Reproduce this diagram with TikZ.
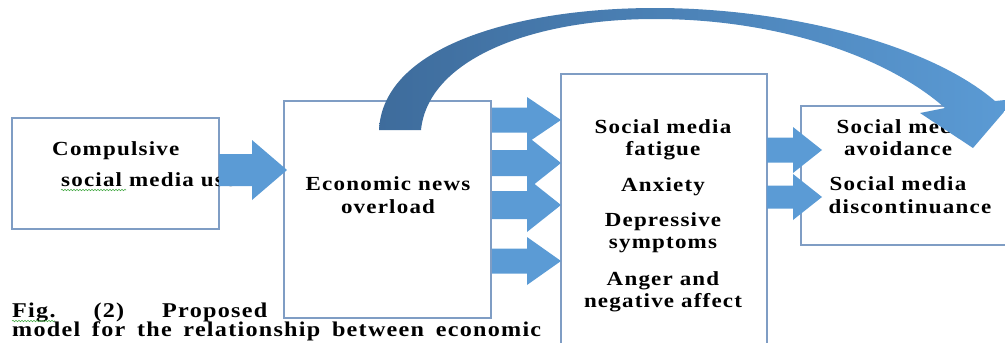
\documentclass[tikz,border=0pt]{standalone}
\usepackage{fontspec}
\setmainfont{Liberation Serif}[FakeStretch=1.15,LetterSpace=6]
\usetikzlibrary{decorations.pathmorphing}
\definecolor{boxline}{RGB}{127,157,196}
\definecolor{arrowblue}{RGB}{91,155,213}
\definecolor{arcdark}{RGB}{62,108,156}
\definecolor{spellgreen}{RGB}{70,170,70}
% block arrow: shaft start x, head base x, tip x, centre y, shaft half-height, head half-height
\newcommand\blockarr[6]{%
  \fill[arrowblue] (#1,#4-#5) -- (#2,#4-#5) -- (#2,#4-#6) -- (#3,#4)
    -- (#2,#4+#6) -- (#2,#4+#5) -- (#1,#4+#5) -- cycle;}
\begin{document}
\frenchspacing
\begin{tikzpicture}[x=1pt,y=-1pt,
  box/.style={draw=boxline,line width=1.2pt,fill=white,inner sep=0pt},
  lbl/.style={font=\bfseries\fontsize{20}{22}\selectfont,inner sep=0pt,anchor=base},
  captext/.style={font=\bfseries\fontsize{21}{20}\selectfont,inner sep=0pt,anchor=base west},
  spell/.style={spellgreen,line width=0.6pt,decorate,
    decoration={snake,amplitude=0.7pt,segment length=3pt}}]
\useasboundingbox (0,0) rectangle (1005,343);
\clip (0,0) rectangle (1005,343);

% boxes
\node[box,minimum width=207pt,minimum height=111pt] (cmp) at (115.5,173.5) {};
\node[box,minimum width=207pt,minimum height=217pt] (eno) at (387.5,209.5) {};
\node[box,minimum width=206pt,minimum height=286pt] (out) at (664,217) {};
\node[box,minimum width=219pt,minimum height=139pt] (beh) at (910.5,175.5) {};

% box texts
\node[lbl,anchor=base west] (t1a) at (52,155) {Compulsive};
\node[lbl,anchor=base west] (t1b) at (61,186) {social media use};
\draw[spell] (61,190) -- (126,190);

\node[lbl] (t2a) at (388,190) {Economic news};
\node[lbl] (t2b) at (388,213) {overload};

\node[lbl] (t3a) at (663,133) {Social media};
\node[lbl] (t3b) at (663,155) {fatigue};
\node[lbl] (t3c) at (663,191) {Anxiety};
\node[lbl] (t3d) at (663,226) {Depressive};
\node[lbl] (t3e) at (663,248) {symptoms};
\node[lbl] (t3f) at (663,285) {Anger and};
\node[lbl] (t3g) at (663,307) {negative affect};

\node[lbl] (t4a) at (905,133) {Social media};
\node[lbl] (t4b) at (898,155) {avoidance};
\node[lbl] (t4c) at (898,190) {Social media};
\node[lbl] (t4d) at (910,213) {discontinuance};

% straight block arrows
\blockarr{219}{252}{287}{170}{16}{30}
\blockarr{492}{527}{561}{120}{12.5}{23}
\blockarr{492}{527}{561}{163}{13}{27}
\blockarr{492}{527}{561}{205}{14}{27}
\blockarr{492}{527}{561}{261}{12.5}{24}
\blockarr{767}{793}{822}{150}{12.5}{23}
\blockarr{767}{793}{822}{197}{11.5}{23}

% curved arrow from the news box over to the behaviour box
\shade[left color=arcdark,right color=arrowblue]
  (379,130) .. controls (383,45) and (520,8) .. (655,8)
  .. controls (790,8) and (930,45) .. (995,101)
  -- (1015,99) -- (973,148) -- (920,113) -- (945,108)
  .. controls (885,55) and (775,19) .. (655,19)
  .. controls (530,19) and (428,60) .. (421,130) -- cycle;

% caption
\node[captext] (c1) at (12,317) {\makebox[255pt][s]{Fig. (2) Proposed}};
\draw[spell] (12,321) -- (55,321);
\node[captext] (c2) at (12,336) {\makebox[529pt][s]{model for the relationship between economic}};
\end{tikzpicture}
\end{document}
